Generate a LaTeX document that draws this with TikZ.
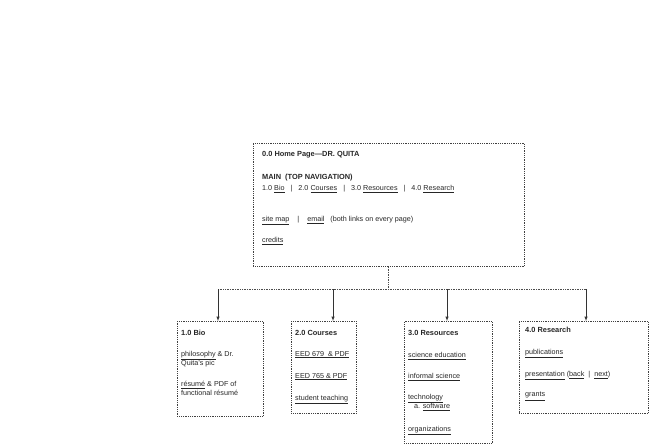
\documentclass[tikz,border=0pt]{standalone}
\usepackage{fontspec}
\setmainfont{Liberation Sans}
\newcommand\ulx[1]{\underline{#1}}
\begin{document}
\begin{tikzpicture}[x=1pt,y=-1pt,
  box/.style={draw=black!75,densely dotted,line width=0.8pt},
  txt/.style={anchor=north west,inner sep=0pt,font=\fontsize{7.2}{9.4}\selectfont,align=left,text=black!85},
  ttl/.style={txt,font=\fontsize{7.4}{9}\selectfont\bfseries},
  conn/.style={draw=black!70,densely dotted,line width=0.7pt},
  arr/.style={draw=black!80,line width=0.5pt,-latex}]
\useasboundingbox (0,0) rectangle (650,446);
% main box
\node[box,minimum width=271pt,minimum height=123pt,anchor=north west] (main) at (253,143) {};
\node[ttl] (m1) at (262,151) {0.0 Home Page---DR. QUITA};
\node[ttl] (m2) at (262,174) {MAIN\ \ (TOP NAVIGATION)};
\node[txt] (m3) at (262,185) {1.0 \ulx{Bio} \ \ | \ \ 2.0 \ulx{Courses} \ \ | \ \ 3.0 \ulx{Resources} \ \ | \ \ 4.0 \ulx{Research}};
\node[txt] (m4) at (262,216) {\ulx{site map} \ \ \ | \ \ \ \ulx{email} \ \ (both links on every page)};
\node[txt] (m5) at (262,237) {\ulx{credits}};
% child boxes
\node[box,minimum width=86pt,minimum height=95pt,anchor=north west] (b1) at (177,321) {};
\node[box,minimum width=65pt,minimum height=92pt,anchor=north west] (b2) at (291,321) {};
\node[box,minimum width=88pt,minimum height=122pt,anchor=north west] (b3) at (404,321) {};
\node[box,minimum width=129pt,minimum height=92pt,anchor=north west] (b4) at (519,321) {};
\node[ttl] at (181,330) {1.0 Bio};
\node[txt] at (181,351) {\ulx{philosophy} \& Dr.\\Quita's pic};
\node[txt] at (181,381) {\ulx{résumé} \& PDF of\\functional résumé};
\node[ttl] at (295,330) {2.0 Courses};
\node[txt] at (295,351) {\ulx{EED 679\ \ \& PDF}};
\node[txt] at (295,373) {\ulx{EED 765 \& PDF}};
\node[txt] at (295,395) {\ulx{student teaching}};
\node[ttl] at (408,330) {3.0 Resources};
\node[txt] at (408,352) {\ulx{science education}};
\node[txt] at (408,373) {\ulx{informal science}};
\node[txt] at (408,394) {\ulx{technology}\\\ \ \ a. \ulx{software}};
\node[txt] at (408,426) {\ulx{organizations}};
\node[ttl] at (525,327) {4.0 Research};
\node[txt] at (525,349) {\ulx{publications}};
\node[txt] at (525,371) {\ulx{presentation} (\ulx{back}\ \ |\ \ \ulx{next})};
\node[txt] at (525,392) {\ulx{grants}};
% connectors
\coordinate (j) at (388,289);
\draw[conn] (main.south -| j) -- (j);
\draw[conn] (218,289) -- (586,289);
\draw[arr] (218,289) -- (b1.north -| 218,0);
\draw[arr] (333,289) -- (b2.north -| 333,0);
\draw[arr] (447,289) -- (b3.north -| 447,0);
\draw[arr] (586,289) -- (b4.north -| 586,0);
\end{tikzpicture}
\end{document}
